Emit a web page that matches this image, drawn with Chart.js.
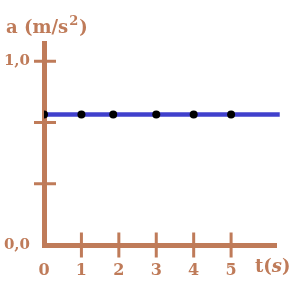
<!DOCTYPE html>
<html>
<head>
<meta charset="utf-8">
<script src="https://cdn.jsdelivr.net/npm/chart.js@4"></script>
<style>
  html, body { margin: 0; padding: 0; background: #fff; }
  #wrap { width: 300px; height: 300px; }
</style>
</head>
<body>
<div id="wrap"><canvas id="c"></canvas></div>
<script>
// measured points (time in s, acceleration in m/s^2)
const tValues = [0, 1, 1.85, 3, 4, 5];
const aValues = [0.71, 0.71, 0.71, 0.71, 0.71, 0.71];
// constant acceleration line, runs past the last point
const lineT = [0, 6.3];
const lineA = [0.71, 0.71];
const xTicks = [0, 1, 2, 3, 4, 5];
const yTicks = [0, 1 / 3, 2 / 3, 1];
const yTickLabels = { 0: '0,0', 1: '1,0' };
const xTitle = ['t(', 's', ')'];
const yTitle = ['a (m/s', '2', ')'];

const brown = 'rgb(191,123,89)';
const blue = 'rgb(64,64,204)';
const serif = '"DejaVu Serif", "Liberation Serif", serif';

// ticks that cross the axis line, like a hand drawn graph
const crossTicks = {
  id: 'crossTicks',
  afterDatasetsDraw(chart) {
    const { ctx, scales: { x, y } } = chart;
    ctx.save();
    ctx.strokeStyle = brown;
    ctx.lineWidth = 3;
    ctx.beginPath();
    x.ticks.forEach(t => {
      if (t.value === 0) return;
      const px = x.getPixelForValue(t.value);
      ctx.moveTo(px, y.bottom - 12.5);
      ctx.lineTo(px, y.bottom + 12.5);
    });
    y.ticks.forEach(t => {
      if (t.value === 0) return;
      const py = y.getPixelForValue(t.value);
      ctx.moveTo(x.left - 10, py);
      ctx.lineTo(x.left + 12, py);
    });
    ctx.stroke();
    ctx.restore();
  }
};

const axisTitles = {
  id: 'axisTitles',
  afterDraw(chart) {
    const ctx = chart.ctx;
    ctx.save();
    ctx.fillStyle = brown;
    ctx.textBaseline = 'alphabetic';
    // y title with raised exponent
    let px = 6;
    ctx.font = 'bold 18px ' + serif;
    ctx.fillText(yTitle[0], px, 33);
    px += ctx.measureText(yTitle[0]).width + 1;
    ctx.font = 'bold 13px ' + serif;
    ctx.fillText(yTitle[1], px, 25);
    px += ctx.measureText(yTitle[1]).width + 1;
    ctx.font = 'bold 18px ' + serif;
    ctx.fillText(yTitle[2], px, 33);
    // x title, the unit in italics
    px = 255;
    ctx.fillText(xTitle[0], px, 272);
    px += ctx.measureText(xTitle[0]).width;
    ctx.font = 'italic bold 18px ' + serif;
    ctx.fillText(xTitle[1], px, 272);
    px += ctx.measureText(xTitle[1]).width;
    ctx.font = 'bold 18px ' + serif;
    ctx.fillText(xTitle[2], px, 272);
    ctx.restore();
  }
};

new Chart(document.getElementById('c'), {
  type: 'scatter',
  data: {
    datasets: [
      {
        data: tValues.map((t, i) => ({ x: t, y: aValues[i] })),
        pointRadius: 4,
        pointBackgroundColor: '#000',
        pointBorderWidth: 0,
        showLine: false,
        order: 0
      },
      {
        data: lineT.map((t, i) => ({ x: t, y: lineA[i] })),
        showLine: true,
        borderColor: blue,
        borderWidth: 4.5,
        pointRadius: 0,
        clip: false,
        order: 1
      }
    ]
  },
  options: {
    responsive: true,
    maintainAspectRatio: false,
    animation: false,
    layout: { padding: { top: 43, right: 24, left: 0, bottom: 0 } },
    plugins: { legend: { display: false }, tooltip: { enabled: false } },
    scales: {
      x: {
        type: 'linear',
        min: 0,
        max: 6.2,
        afterBuildTicks: s => { s.ticks = xTicks.map(v => ({ value: v })); },
        afterFit: s => { s.height = 55; },
        grid: { display: false, drawTicks: false },
        border: { display: true, color: brown, width: 5 },
        ticks: {
          padding: 16,
          color: brown,
          font: { family: serif, size: 16, weight: 'bold' },
          callback: v => String(v)
        }
      },
      y: {
        type: 'linear',
        min: 0,
        max: 1.1,
        afterBuildTicks: s => { s.ticks = yTicks.map(v => ({ value: v })); },
        afterFit: s => { s.width = 44; },
        grid: { display: false, drawTicks: false },
        border: { display: true, color: brown, width: 5 },
        ticks: {
          padding: 14,
          color: brown,
          font: { family: serif, size: 15, weight: 'bold' },
          callback: v => yTickLabels[v] || ''
        }
      }
    }
  },
  plugins: [crossTicks, axisTitles]
});
</script>
</body>
</html>
